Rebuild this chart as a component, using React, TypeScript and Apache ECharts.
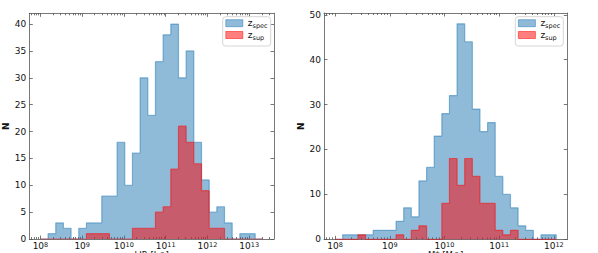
import React, { useEffect, useRef } from "react";
import * as echarts from "echarts";

const FONT = "DejaVu Sans";

// Histogram bins (log10 of quantity): first edge and common width, 29 bins each
const leftBinStart = 8.0;
const leftBinWidth = 0.1837;
const leftSpecCounts = [0, 1, 3, 2, 0, 2, 3, 3, 8, 8, 18, 10, 16, 30, 23, 33, 38, 40, 30, 35, 18, 11, 5, 6, 3, 0, 1, 1, 0];
const leftSupCounts = [0, 0, 0, 0, 0, 0, 1, 1, 1, 0, 0, 0, 2, 2, 2, 5, 6, 13, 21, 18, 14, 9, 2, 2, 0, 0, 0, 0, 0];

const rightBinStart = 8.0;
const rightBinWidth = 0.1394;
const rightSpecCounts = [0, 1, 1, 1, 1, 2, 2, 2, 4, 7, 5, 13, 16, 23, 28, 32, 48, 44, 29, 24, 26, 14, 10, 7, 3, 2, 0, 1, 1];
const rightSupCounts = [0, 0, 0, 1, 0, 0, 0, 0, 1, 0, 2, 3, 0, 0, 8, 18, 12, 18, 14, 8, 8, 2, 1, 2, 0, 0, 0, 0, 0];

// Axis ticks and limits
const leftXTickExps = [8, 9, 10, 11, 12, 13];
const rightXTickExps = [8, 9, 10, 11, 12];
const leftYTicks = [0, 5, 10, 15, 20, 25, 30, 35, 40];
const rightYTicks = [0, 10, 20, 30, 40, 50];
const leftXLimits = [7.734, 13.594];
const rightXLimits = [7.798, 12.245];
const leftYMax = 42;
const rightYMax = 50.4;

const seriesNames = ["zspec", "zsup"];
const legendSubscripts: Record<string, string> = { zspec: "spec", zsup: "sup" };
const yAxisName = "N";
const xAxisNames = ["LIR [L⊙]", "M* [M⊙]"];

const SPEC_COLOR = "rgba(31,119,180,0.5)";
const SUP_COLOR = "rgba(255,0,0,0.5)";
const AXIS_COLOR = "#555";
const TEXT_COLOR = "#111";

function stepPoints(start: number, width: number, counts: number[]) {
  const pts: number[][] = [[start, 0]];
  counts.forEach((c, i) => {
    pts.push([start + i * width, c]);
    pts.push([start + (i + 1) * width, c]);
  });
  pts.push([start + counts.length * width, 0]);
  return pts;
}

function minorLogTicks(min: number, max: number) {
  const out: number[] = [];
  for (let n = Math.floor(min); n <= Math.ceil(max); n++) {
    for (let k = 2; k <= 9; k++) {
      const v = n + Math.log10(k);
      if (v > min && v < max) out.push(v);
    }
  }
  return out;
}

const tickLine = { color: AXIS_COLOR, width: 0.8 };

function xAxesFor(gridIndex: number, limits: number[], exps: number[]) {
  const [min, max] = limits;
  const minor = minorLogTicks(min, max);
  const base = { type: "value", gridIndex, min, max, splitLine: { show: false } };
  return [
    {
      ...base,
      position: "bottom",
      axisLine: { show: true, onZero: false, lineStyle: tickLine },
      axisTick: { show: true, inside: true, length: 3.5, customValues: exps, lineStyle: tickLine },
      axisLabel: {
        show: true,
        customValues: exps,
        margin: 2.5,
        formatter: (v: number) => `{b|10}{s|${Math.round(v)}}`,
        rich: {
          b: { fontSize: 9, fontFamily: FONT, color: TEXT_COLOR, lineHeight: 8.5 },
          s: { fontSize: 6.5, fontFamily: FONT, color: TEXT_COLOR, lineHeight: 8.5, verticalAlign: "top" },
        },
      },
    },
    {
      ...base,
      position: "bottom",
      axisLine: { show: false, onZero: false },
      axisTick: { show: true, inside: true, length: 2, customValues: minor, lineStyle: tickLine },
      axisLabel: { show: false },
    },
    {
      ...base,
      position: "top",
      axisLine: { show: true, onZero: false, lineStyle: tickLine },
      axisTick: { show: true, inside: true, length: 3.5, customValues: exps, lineStyle: tickLine },
      axisLabel: { show: false },
    },
    {
      ...base,
      position: "top",
      axisLine: { show: false, onZero: false },
      axisTick: { show: true, inside: true, length: 2, customValues: minor, lineStyle: tickLine },
      axisLabel: { show: false },
    },
  ];
}

function yAxesFor(gridIndex: number, max: number, ticks: number[]) {
  const base = { type: "value", gridIndex, min: 0, max, splitLine: { show: false } };
  return [
    {
      ...base,
      position: "left",
      name: yAxisName,
      nameLocation: "middle",
      nameGap: 17,
      nameRotate: 90,
      nameTextStyle: { fontFamily: FONT, fontSize: 9, fontWeight: "bold", color: TEXT_COLOR },
      axisLine: { show: true, lineStyle: tickLine },
      axisTick: { show: true, inside: true, length: 3.5, customValues: ticks, lineStyle: tickLine },
      axisLabel: { show: true, customValues: ticks, margin: 3, fontFamily: FONT, fontSize: 9, color: TEXT_COLOR },
    },
    {
      ...base,
      position: "right",
      axisLine: { show: true, lineStyle: tickLine },
      axisTick: { show: true, inside: true, length: 3.5, customValues: ticks, lineStyle: tickLine },
      axisLabel: { show: false },
    },
  ];
}

function histSeries(name: string, xi: number, yi: number, pts: number[][], color: string, z: number) {
  return {
    type: "line",
    name,
    xAxisIndex: xi,
    yAxisIndex: yi,
    data: pts,
    showSymbol: false,
    symbol: "none",
    silent: true,
    z,
    lineStyle: { color, width: 1.2 },
    itemStyle: { color },
    areaStyle: { color, opacity: 1, origin: "start" },
  };
}

const LEGEND_TOP = 16.7;
const LEGEND_W = 48;
const LEGEND_H = 29.3;

function legendFor(left: number) {
  return {
    orient: "vertical",
    left: left + 2.6,
    top: LEGEND_TOP + 2,
    z: 20,
    itemWidth: 17,
    itemHeight: 7,
    itemGap: 1.3,
    padding: 0,
    borderWidth: 0,
    selectedMode: false,
    data: [
      { name: seriesNames[0], icon: "rect", itemStyle: { color: SPEC_COLOR, borderColor: SPEC_COLOR, borderWidth: 1 } },
      { name: seriesNames[1], icon: "rect", itemStyle: { color: SUP_COLOR, borderColor: SUP_COLOR, borderWidth: 1 } },
    ],
    formatter: (name: string) => `{z|z}{s|${legendSubscripts[name]}}`,
    textStyle: {
      color: TEXT_COLOR,
      rich: {
        z: { fontFamily: FONT, fontSize: 9, color: TEXT_COLOR, lineHeight: 12 },
        s: { fontFamily: FONT, fontSize: 6.5, color: TEXT_COLOR, lineHeight: 12, verticalAlign: "bottom" },
      },
    },
  };
}

function legendBox(left: number) {
  return {
    type: "rect",
    z: 15,
    shape: { x: left, y: LEGEND_TOP, width: LEGEND_W, height: LEGEND_H, r: 3 },
    style: { fill: "rgba(255,255,255,0.8)", stroke: "#d6d6d6", lineWidth: 1 },
    silent: true,
  };
}

function xNameText(x: number, text: string) {
  return {
    type: "text",
    x,
    y: 251,
    style: {
      text,
      fontFamily: FONT,
      fontSize: 8.5,
      lineHeight: 8,
      fill: TEXT_COLOR,
      align: "center",
      verticalAlign: "top",
    },
  };
}

export default function App() {
  const ref = useRef<HTMLDivElement>(null);
  useEffect(() => {
    if (!ref.current) return;
    const chart = echarts.init(ref.current, undefined, { renderer: "svg" });
    const xAxes = [
      ...xAxesFor(0, leftXLimits, leftXTickExps),
      ...xAxesFor(1, rightXLimits, rightXTickExps),
    ];
    const yAxes = [...yAxesFor(0, leftYMax, leftYTicks), ...yAxesFor(1, rightYMax, rightYTicks)];
    chart.setOption({
      animation: false,
      backgroundColor: "#fff",
      textStyle: { fontFamily: FONT },
      grid: [
        { left: 29.3, top: 13.3, width: 244.7, height: 225.7, containLabel: false },
        { left: 324, top: 13, width: 243.3, height: 226.3, containLabel: false },
      ],
      xAxis: xAxes,
      yAxis: yAxes,
      legend: [legendFor(222.7), legendFor(515.3)],
      series: [
        histSeries(seriesNames[0], 0, 0, stepPoints(leftBinStart, leftBinWidth, leftSpecCounts), SPEC_COLOR, 2),
        histSeries(seriesNames[1], 0, 0, stepPoints(leftBinStart, leftBinWidth, leftSupCounts), SUP_COLOR, 3),
        histSeries(seriesNames[0], 4, 2, stepPoints(rightBinStart, rightBinWidth, rightSpecCounts), SPEC_COLOR, 2),
        histSeries(seriesNames[1], 4, 2, stepPoints(rightBinStart, rightBinWidth, rightSupCounts), SUP_COLOR, 3),
      ],
      graphic: [
        legendBox(222.7),
        legendBox(515.3),
        xNameText(151.7, xAxisNames[0]),
        xNameText(445.6, xAxisNames[1]),
      ],
    });
    return () => chart.dispose();
  }, []);
  return (
    <div
      ref={ref}
      style={{ position: "absolute", left: 0, top: 0, width: 598, height: 253, background: "#fff" }}
    />
  );
}
